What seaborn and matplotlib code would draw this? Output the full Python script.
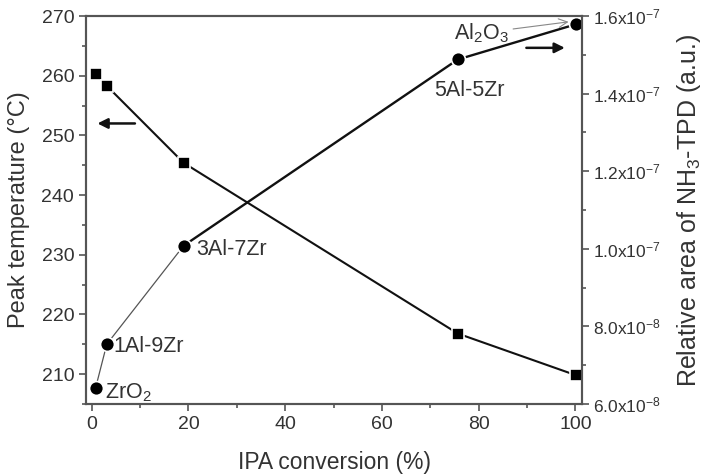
import numpy as np
import pandas as pd
import matplotlib
matplotlib.use('Agg')
import matplotlib.pyplot as plt
from matplotlib.ticker import MultipleLocator, FuncFormatter
import seaborn as sns

# values
conversion = [0.8, 3.1, 19.0, 75.7, 100.2]
peak_temp = [260.3, 258.3, 245.4, 216.8, 209.8]
samples = ['ZrO$_2$', '1Al-9Zr', '3Al-7Zr', '5Al-5Zr', 'Al$_2$O$_3$']
nh3_area = [6.42e-8, 7.54e-8, 1.008e-7, 1.488e-7, 1.579e-7]

sns.set_style('ticks')
plt.rcParams['font.family'] = ['Liberation Sans', 'DejaVu Sans']
plt.rcParams['mathtext.fontset'] = 'custom'
plt.rcParams['mathtext.rm'] = 'Liberation Sans'
plt.rcParams['mathtext.it'] = 'Liberation Sans'
plt.rcParams['mathtext.default'] = 'regular'

txt = '#333333'
spine = '#555555'

fig = plt.figure(figsize=(7.03, 4.74), dpi=100)
ax = fig.add_axes([0.1223, 0.1477, 0.7057, 0.8185])
ax2 = ax.twinx()

temp_df = pd.DataFrame({'x': conversion, 'y': peak_temp})
area_df = pd.DataFrame({'x': conversion, 'y': nh3_area, 'name': samples})

sns.lineplot(data=temp_df, x='x', y='y', ax=ax, color='#111111', lw=1.5,
             marker='s', markersize=9, mec='white', mew=1.2, mfc='black')
# first segments of the NH3 series are drawn thinner in the original
sns.lineplot(data=area_df.iloc[:3], x='x', y='y', ax=ax2, color='#555555', lw=0.9,
             marker='o', markersize=10, mec='white', mew=1.2, mfc='black')
sns.lineplot(data=area_df.iloc[2:], x='x', y='y', ax=ax2, color='#111111', lw=1.7,
             marker='o', markersize=10, mec='white', mew=1.2, mfc='black')

ax.set_xlim(-1.2, 101.4)
ax.set_ylim(205, 270)
ax2.set_ylim(6e-8, 1.6e-7)

ax.xaxis.set_major_locator(MultipleLocator(20))
ax.xaxis.set_minor_locator(MultipleLocator(10))
ax.yaxis.set_major_locator(MultipleLocator(10))
ax.yaxis.set_minor_locator(MultipleLocator(5))
ax2.yaxis.set_major_locator(MultipleLocator(2e-8))
ax2.yaxis.set_minor_locator(MultipleLocator(1e-8))


def sci_fmt(v, pos):
    exp = int(np.floor(np.log10(v) + 1e-9))
    return '%.1fx10$^{%d}$' % (v / 10 ** exp, exp)


ax2.yaxis.set_major_formatter(FuncFormatter(sci_fmt))

for a in (ax, ax2):
    for s in a.spines.values():
        s.set_color(spine)
        s.set_linewidth(1.5)
    a.tick_params(which='both', direction='out', colors=spine, labelcolor=txt, labelsize=14, width=1.2)
    a.tick_params(which='major', length=5)
    a.tick_params(which='minor', length=3)
ax.tick_params(top=False, which='both')
ax2.tick_params(labelsize=12.5, pad=3)

ax.set_xlabel('IPA conversion (%)', fontsize=16.5, color=txt, labelpad=13)
ax.set_ylabel('Peak temperature (°C)', fontsize=17, color=txt, labelpad=8)
ax2.set_ylabel('Relative area of NH$_3$-TPD (a.u.)', fontsize=18, color=txt, labelpad=10)

# sample labels
lbl = dict(fontsize=15.5, color=txt, va='center')
ax2.text(2.8, 6.3e-8, samples[0], ha='left', **lbl)
ax2.text(4.5, 7.49e-8, samples[1], ha='left', **lbl)
ax2.text(21.6, 9.97e-8, samples[2], ha='left', **lbl)
ax2.text(78.2, 1.409e-7, samples[3], ha='center', **lbl)
ax2.annotate(samples[4], xy=(98.6, 1.585e-7), xytext=(80.5, 1.556e-7), ha='center',
             arrowprops=dict(arrowstyle='->', color='#888888', lw=0.8, shrinkA=1, shrinkB=0), **lbl)

# axis indicator arrows
ax.annotate('', xy=(0.6, 252), xytext=(9.5, 252),
            arrowprops=dict(arrowstyle='-|>', color='#111111', lw=1.8, mutation_scale=15))
ax2.annotate('', xy=(98.4, 1.518e-7), xytext=(89.3, 1.518e-7),
             arrowprops=dict(arrowstyle='-|>', color='#111111', lw=1.8, mutation_scale=15))

fig.savefig('out.png', dpi=100)
